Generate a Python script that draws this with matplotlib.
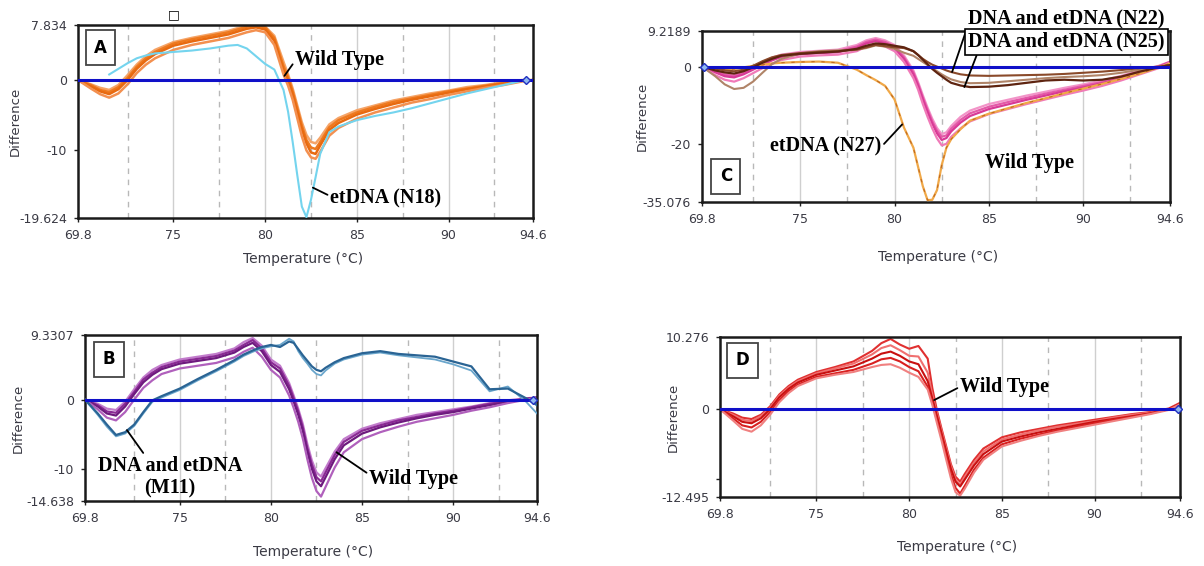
import numpy as np
import matplotlib
matplotlib.use('Agg')
import matplotlib.pyplot as plt

nan = np.nan

# shared temperature knots (deg C)
temp = [69.8, 70.5, 71.0, 71.5, 72.0, 72.5, 73.0, 73.5, 74.0, 75.0,
        76.0, 77.0, 78.0, 78.5, 79.0, 79.5, 80.0, 80.5, 81.0, 81.25,
        81.5, 81.75, 82.0, 82.25, 82.5, 82.75, 83.0, 83.5, 84.0, 85.0,
        86.0, 87.0, 88.0, 89.0, 90.0, 91.0, 92.0, 93.0, 94.0, 94.6]

x_ticks = [69.8, 75, 80, 85, 90, 94.6]
x_tick_labels = ['69.8', '75', '80', '85', '90', '94.6']
grid_solid = [75, 80, 85, 90]
grid_dashed = [72.5, 77.5, 82.5, 87.5, 92.5]

# ---- panel A : wild type (orange) vs etDNA N18 (cyan)
a_yticks = [7.834, 0, -10, -19.624]
a_wt_1 = [0, -0.6, -1.1, -1.4, -0.7, 0.7, 2.2, 3.4, 4.3, 5.4, 6.0, 6.5, 7.0, 7.4, 7.7, 7.8, 7.6, 6.3, 2.6, 0.8,
          -1.2, -3.6, -6.0, -7.8, -8.8, -9.0, -8.2, -6.3, -5.4, -4.3, -3.6, -2.9, -2.4, -1.9, -1.5, -1.0, -0.7, -0.3, 0.0, 0.0]
a_wt_2 = [0, -0.7, -1.4, -1.7, -1.0, 0.3, 1.9, 3.1, 4.0, 5.2, 5.8, 6.3, 6.8, 7.2, 7.6, 7.8, 7.5, 6.0, 2.0, 0.4,
          -1.6, -4.0, -6.5, -8.5, -9.6, -9.8, -8.8, -6.7, -5.7, -4.6, -3.8, -3.1, -2.6, -2.1, -1.6, -1.2, -0.8, -0.4, -0.1, 0.0]
a_wt_3 = [0, -0.9, -1.6, -2.0, -1.3, 0.0, 1.6, 2.8, 3.7, 4.9, 5.5, 6.0, 6.5, 6.9, 7.3, 7.5, 7.2, 5.6, 1.5, 0.0,
          -2.0, -4.5, -7.0, -9.0, -10.3, -10.5, -9.3, -7.1, -6.1, -4.9, -4.1, -3.4, -2.8, -2.3, -1.8, -1.3, -0.9, -0.5, -0.1, 0.0]
a_wt_4 = [0, -1.2, -2.0, -2.5, -1.9, -0.6, 1.0, 2.2, 3.1, 4.3, 5.0, 5.5, 6.0, 6.4, 6.8, 7.1, 6.8, 5.0, 0.8, -0.8,
          -2.8, -5.4, -8.0, -10.0, -11.0, -11.2, -10.2, -7.9, -6.8, -5.5, -4.6, -3.9, -3.2, -2.7, -2.1, -1.6, -1.1, -0.7, -0.2, 0.0]
a_n18 = [nan, nan, nan, 0.8, 1.6, 2.4, 3.1, 3.5, 3.8, 4.0, 4.2, 4.5, 4.9, 5.0, 4.5, 3.4, 2.3, 1.5, -1.4, -4.5,
         -8.8, -13.5, -18.0, -19.5, -17.0, -13.8, -10.5, -7.4, -6.6, -5.7, -5.1, -4.6, -4.0, -3.3, -2.6, -1.9, -1.3, -0.7, -0.1, 0.0]

# ---- panel B : wild type (purple) vs DNA and etDNA M11 (blue)
b_yticks = [9.3307, 0, -10, -14.638]
b_wt_1 = [0, -0.6, -1.3, -1.5, -0.3, 1.5, 3.2, 4.3, 5.0, 5.8, 6.2, 6.6, 7.4, 8.3, 8.9, 7.8, 5.8, 4.9, 2.4, 0.6,
          -1.3, -3.5, -6.4, -8.8, -10.5, -11.1, -9.9, -7.5, -5.7, -4.2, -3.4, -2.8, -2.2, -1.8, -1.4, -1.0, -0.5, -0.1, 0.2, 0.3]
b_wt_2 = [0, -0.8, -1.7, -1.9, -0.6, 1.1, 2.9, 3.9, 4.7, 5.5, 5.9, 6.3, 7.1, 7.9, 8.6, 7.4, 5.4, 4.5, 2.0, 0.2,
          -1.7, -4.0, -7.0, -9.4, -11.2, -11.8, -10.5, -8.0, -6.1, -4.5, -3.7, -3.0, -2.5, -2.0, -1.6, -1.1, -0.6, -0.2, 0.1, 0.3]
b_wt_3 = [0, -1.0, -2.0, -2.3, -1.0, 0.8, 2.5, 3.6, 4.4, 5.2, 5.6, 6.0, 6.8, 7.6, 8.2, 7.0, 5.0, 4.0, 1.5, -0.3,
          -2.2, -4.5, -7.5, -10.0, -11.8, -12.5, -11.2, -8.6, -6.6, -4.9, -4.0, -3.3, -2.7, -2.2, -1.8, -1.3, -0.8, -0.3, 0.1, 0.3]
b_wt_4 = [0, -1.4, -2.6, -3.0, -1.8, 0.0, 1.7, 2.8, 3.7, 4.5, 4.9, 5.3, 6.1, 6.9, 7.5, 6.2, 4.3, 3.2, 0.6, -1.2,
          -3.2, -5.6, -8.6, -11.3, -13.2, -14.0, -12.6, -9.8, -7.6, -5.7, -4.7, -3.9, -3.2, -2.7, -2.2, -1.6, -1.1, -0.5, 0.0, 0.3]
b_m11_1 = [0, -2.0, -3.6, -5.1, -4.7, -3.6, -1.8, -0.1, 0.5, 1.6, 3.0, 4.3, 5.7, 6.5, 7.1, 7.6, 7.9, 7.6, 8.4, 8.2,
           7.3, 6.4, 5.6, 4.8, 4.3, 4.1, 4.6, 5.4, 6.0, 6.7, 7.0, 6.6, 6.4, 6.2, 5.5, 4.8, 1.5, 1.6, 0.2, -0.8]
b_m11_2 = [0, -2.2, -3.9, -5.3, -4.9, -3.8, -2.0, -0.3, 0.3, 1.4, 2.8, 4.1, 5.5, 6.3, 6.9, 7.4, 7.7, 7.9, 8.8, 8.4,
           7.0, 6.0, 5.2, 4.3, 3.7, 3.5, 4.2, 5.2, 5.8, 6.5, 6.8, 6.4, 6.1, 5.8, 5.1, 4.2, 1.2, 1.9, -0.3, -2.0]

# ---- panel C : wild type (pink), etDNA N27 (orange), DNA and etDNA N22 / N25 (browns)
c_yticks = [9.2189, 0, -20, -35.076]
c_wt_1 = [0, -1.0, -1.8, -2.0, -1.2, 0.0, 1.2, 2.3, 3.1, 3.8, 4.1, 4.4, 5.6, 6.8, 7.4, 6.8, 5.6, 2.9, -1.0, -4.0,
          -7.4, -10.6, -13.5, -15.9, -17.5, -17.0, -15.4, -13.0, -11.4, -9.7, -8.6, -7.5, -6.5, -5.5, -4.6, -3.6, -2.4, -1.0, 0.2, 1.3]
c_wt_2 = [0, -1.2, -2.1, -2.4, -1.6, -0.4, 0.8, 2.0, 2.8, 3.5, 3.8, 4.0, 5.2, 6.4, 7.0, 6.4, 5.2, 2.4, -1.5, -4.5,
          -8.0, -11.2, -14.2, -16.6, -18.2, -17.8, -16.1, -13.8, -12.1, -10.4, -9.2, -8.1, -7.0, -6.0, -5.0, -4.0, -2.7, -1.2, 0.1, 1.2]
c_wt_3 = [0, -1.5, -2.5, -2.8, -2.0, -0.8, 0.4, 1.6, 2.5, 3.2, 3.5, 3.7, 4.8, 6.0, 6.6, 6.0, 4.8, 2.0, -2.0, -5.0,
          -8.5, -11.8, -14.8, -17.3, -19.0, -18.5, -16.8, -14.5, -12.8, -11.0, -9.8, -8.6, -7.5, -6.4, -5.4, -4.3, -3.0, -1.5, -0.1, 1.2]
c_wt_4 = [0, -2.2, -3.4, -3.9, -3.0, -1.7, -0.4, 0.8, 1.7, 2.6, 2.9, 3.1, 4.0, 5.2, 5.8, 5.2, 4.0, 1.2, -3.0, -6.0,
          -9.7, -13.0, -16.0, -18.6, -20.4, -20.0, -18.2, -16.0, -14.2, -12.3, -11.0, -9.7, -8.5, -7.3, -6.2, -5.0, -3.6, -2.0, -0.4, 1.1]
c_n27 = [0, -0.5, -0.8, -0.6, -0.2, 0.2, 0.5, 0.8, 1.0, 1.2, 1.3, 1.0, -0.8, -2.2, -3.5, -5.0, -8.5, -15.8, -21.0, -26.0,
         -31.0, -34.6, -34.5, -32.0, -25.5, -21.0, -18.8, -16.2, -14.0, -12.2, -10.8, -9.4, -8.2, -6.9, -5.7, -4.5, -3.2, -1.8, -0.2, 0.8]
c_n22 = [0, -0.5, -1.0, -1.2, -0.8, 0.2, 1.4, 2.4, 3.0, 3.5, 3.8, 4.0, 4.4, 5.0, 5.6, 5.3, 5.0, 4.8, 4.0, 3.0,
         2.0, 1.2, 0.5, 0.0, -0.5, -1.0, -1.4, -2.0, -2.3, -2.4, -2.3, -2.2, -2.1, -1.9, -1.6, -1.3, -0.9, -0.4, 0.0, 0.4]
c_n25 = [0, -1.0, -1.5, -1.8, -1.2, -0.2, 1.0, 2.0, 2.8, 3.3, 3.6, 3.9, 4.6, 5.4, 6.0, 5.8, 5.4, 5.0, 4.0, 3.0,
         1.8, 0.6, -0.6, -1.6, -2.5, -3.4, -4.2, -4.9, -5.3, -5.2, -4.8, -4.2, -3.6, -3.4, -3.6, -3.4, -2.6, -1.3, -0.2, 0.4]
c_n25_b = [0, -2.5, -4.6, -5.8, -5.5, -3.9, -1.6, 0.6, 2.0, 3.4, 4.0, 4.2, 4.4, 4.8, 5.5, 5.2, 4.6, 3.6, 2.8, 2.0,
           1.2, 0.4, -0.4, -1.2, -2.0, -2.7, -3.3, -4.0, -4.3, -4.2, -3.8, -3.4, -3.0, -2.7, -2.5, -2.2, -1.6, -0.8, -0.1, 0.3]

# ---- panel D : wild type (red)
d_yticks = [10.276, 0, -10, -12.495]
d_ytick_labels = ['10.276', '0', '', '-12.495']
d_wt_1 = [0, -0.6, -1.2, -1.4, -0.8, 0.4, 2.1, 3.3, 4.2, 5.3, 6.0, 6.8, 8.3, 9.4, 10.0, 9.2, 8.6, 9.0, 7.2, 3.0,
          -0.2, -2.8, -5.3, -7.8, -9.6, -10.3, -9.2, -7.2, -5.6, -4.0, -3.3, -2.8, -2.3, -1.9, -1.5, -1.1, -0.7, -0.4, 0.1, 0.9]
d_wt_2 = [0, -0.8, -1.5, -1.7, -1.0, 0.2, 1.9, 3.1, 4.0, 5.1, 5.8, 6.5, 7.8, 8.7, 9.1, 8.4, 7.6, 7.5, 5.2, 2.0,
          -0.6, -3.1, -5.6, -8.1, -10.0, -10.7, -9.6, -7.6, -6.0, -4.3, -3.6, -3.0, -2.5, -2.1, -1.7, -1.2, -0.8, -0.5, 0.0, 0.8]
d_wt_3 = [0, -1.0, -1.8, -2.0, -1.3, 0.0, 1.7, 2.9, 3.8, 4.9, 5.5, 6.1, 7.2, 7.9, 8.2, 7.6, 6.8, 6.4, 4.0, 1.5,
          -1.0, -3.5, -6.0, -8.5, -10.3, -11.0, -10.0, -8.0, -6.4, -4.6, -3.9, -3.3, -2.8, -2.3, -1.8, -1.4, -1.0, -0.6, 0.0, 0.8]
d_wt_4 = [0, -1.3, -2.3, -2.6, -1.8, -0.4, 1.3, 2.6, 3.5, 4.6, 5.1, 5.6, 6.5, 7.1, 7.3, 6.8, 6.0, 5.4, 3.2, 1.0,
          -1.6, -4.0, -6.6, -9.2, -11.2, -12.0, -10.9, -8.6, -6.9, -5.0, -4.2, -3.6, -3.0, -2.5, -2.0, -1.5, -1.1, -0.6, 0.0, 0.7]
d_wt_5 = [0, -1.6, -2.8, -3.2, -2.3, -0.8, 1.0, 2.3, 3.3, 4.4, 4.9, 5.3, 6.0, 6.3, 6.4, 5.9, 5.2, 4.6, 2.8, 0.6,
          -2.0, -4.5, -7.2, -9.8, -11.8, -12.3, -11.3, -9.0, -7.2, -5.3, -4.5, -3.8, -3.2, -2.7, -2.2, -1.7, -1.2, -0.7, -0.1, 0.7]

# end-of-baseline marker temperatures (A, B, C, D)
marker_temps = [94.2, 94.4, 69.9, 94.5]

TICK_FONT = 'DejaVu Sans'
NOTE_FONT = 'Liberation Serif'


def setup_panel(ax, yticks, ytick_labels, letter, letter_xy, ylabel_x, xlabel_xy, marker_t):
    ax.set_xlim(69.8, 94.6)
    ax.set_ylim(min(yticks), max(yticks))
    for t in grid_solid:
        ax.axvline(t, color='#cfcfcf', lw=1.0, zorder=0)
    for t in grid_dashed:
        ax.axvline(t, color='#b8b8b8', lw=1.0, ls=(0, (4, 4)), zorder=0)
    ax.axhline(0, color='#1010c8', lw=2.2, zorder=4)
    ax.plot([marker_t], [0], marker='D', ms=4.5, mfc='#8fb8f0', mec='#2030c0',
            ls='none', zorder=5, clip_on=False)

    ax.set_xticks(x_ticks)
    ax.set_xticklabels(x_tick_labels)
    ax.set_yticks(yticks)
    ax.set_yticklabels(ytick_labels)
    ax.tick_params(axis='both', length=3, width=1, colors='#222222', labelsize=9, pad=5)
    for lab in ax.get_xticklabels() + ax.get_yticklabels():
        lab.set_family(TICK_FONT)
        lab.set_color('#3a3a44')
    for sp in ax.spines.values():
        sp.set_linewidth(1.8)
        sp.set_color('#1a1a1a')

    ax.set_ylabel('Difference', family=TICK_FONT, fontsize=9.5, color='#3a3a44')
    ax.yaxis.set_label_coords(ylabel_x, 0.5)
    ax.set_xlabel('Temperature (°C)', family=TICK_FONT, fontsize=10, color='#3a3a44')
    ax.xaxis.set_label_coords(*xlabel_xy)

    ax.text(letter_xy[0], letter_xy[1], letter, transform=ax.transAxes,
            ha='center', va='center', fontsize=12, fontweight='bold', family='DejaVu Sans',
            bbox=dict(boxstyle='square,pad=0.5', fc='white', ec='#444444', lw=1.3), zorder=6)


def note(ax, text, xytext, xy=None, relpos=(0, 0.5), ha='left', bbox=None):
    kw = dict(textcoords='data', ha=ha, va='center', fontsize=14.5, fontweight='bold',
              family=NOTE_FONT, annotation_clip=False, zorder=7)
    if bbox is not None:
        kw['bbox'] = bbox
    if xy is None:
        ax.text(xytext[0], xytext[1], text, ha=ha, va='center', fontsize=14.5,
                fontweight='bold', family=NOTE_FONT, zorder=7, clip_on=False)
        return
    ax.annotate(text, xy=xy, xytext=xytext,
                arrowprops=dict(arrowstyle='-', color='black', lw=1.3, relpos=relpos,
                                shrinkA=0, shrinkB=0), **kw)


fig = plt.figure(figsize=(12.04, 5.66), dpi=100)
axA = fig.add_axes([0.0648, 0.6148, 0.3779, 0.341])
axB = fig.add_axes([0.0706, 0.1148, 0.3754, 0.2933])
axC = fig.add_axes([0.5831, 0.6431, 0.3887, 0.3021])
axD = fig.add_axes([0.598, 0.1219, 0.382, 0.2827])

# A
for vals, col in zip([a_wt_1, a_wt_2, a_wt_3, a_wt_4], ['#f5a468', '#ee7a20', '#e86a10', '#f39050']):
    axA.plot(temp, vals, color=col, lw=1.8, zorder=2)
axA.plot(temp, a_n18, color='#74d4ee', lw=1.5, zorder=3)
setup_panel(axA, a_yticks, ['7.834', '0', '-10', '-19.624'], 'A', (0.049, 0.883),
            -0.123, (0.495, -0.176), marker_temps[0])
note(axA, 'Wild Type', (81.65, 2.8), (81.05, 0.6))
note(axA, 'etDNA (N18)', (83.55, -16.8), (82.6, -15.3), relpos=(0, 0.6))
fig.text(0.1445, 0.9735, '\u25a1', ha='center', va='center', fontsize=9, family='DejaVu Sans')

# B
for vals, col in zip([b_wt_1, b_wt_2, b_wt_3, b_wt_4], ['#c27ccc', '#8a2a94', '#6e1a7e', '#b060bc']):
    axB.plot(temp, vals, color=col, lw=1.6, zorder=2)
axB.plot(temp, b_m11_2, color='#6aa6cc', lw=1.3, zorder=3)
axB.plot(temp, b_m11_1, color='#2a6494', lw=1.6, zorder=3)
setup_panel(axB, b_yticks, ['9.3307', '0', '-10', '-14.638'], 'B', (0.053, 0.854),
            -0.133, (0.505, -0.265), marker_temps[1])
note(axB, 'DNA and etDNA\n(M11)', (74.45, -11.2), (72.1, -4.4), relpos=(0.33, 1.0), ha='center')
note(axB, 'Wild Type', (85.4, -11.4), (83.6, -7.6), relpos=(0, 0.7))

# C
for vals, col in zip([c_wt_1, c_wt_2, c_wt_3, c_wt_4], ['#f294c8', '#e45aa8', '#d83a96', '#f07ab8']):
    axC.plot(temp, vals, color=col, lw=1.6, zorder=2)
axC.plot(temp, c_n27, color='#f0a848', lw=1.6, zorder=3)
axC.plot(temp, c_n27, color='#c06a20', lw=0.8, ls=(0, (3, 6)), zorder=3)
axC.plot(temp, c_n25_b, color='#b08468', lw=1.5, zorder=3)
axC.plot(temp, c_n22, color='#8a4a2a', lw=1.5, zorder=3)
axC.plot(temp, c_n25, color='#5e2410', lw=1.6, zorder=3)
setup_panel(axC, c_yticks, ['9.2189', '0', '-20', '-35.076'], 'C', (0.051, 0.15),
            -0.113, (0.505, -0.28), marker_temps[2])
note(axC, 'DNA and etDNA (N22)', (83.9, 12.4), (83.05, -1.4), relpos=(0, 0.2))
note(axC, 'DNA and etDNA (N25)', (83.9, 6.4), (83.7, -5.3), relpos=(0.05, 0),
     bbox=dict(boxstyle='square,pad=0.15', fc='white', ec='black', lw=1.2))
note(axC, 'etDNA (N27)', (73.4, -20.8), (80.4, -15.0), relpos=(1, 0.5))
note(axC, 'Wild Type', (84.8, -25.1))

# D
for vals, col in zip([d_wt_1, d_wt_2, d_wt_3, d_wt_4, d_wt_5],
                     ['#e03030', '#f07070', '#c81010', '#d82020', '#f08080']):
    axD.plot(temp, vals, color=col, lw=1.5, zorder=2)
setup_panel(axD, d_yticks, d_ytick_labels, 'D', (0.049, 0.855),
            -0.087, (0.515, -0.27), marker_temps[3])
note(axD, 'Wild Type', (82.75, 3.2), (81.35, 1.3))

fig.savefig('out.png', dpi=100)
